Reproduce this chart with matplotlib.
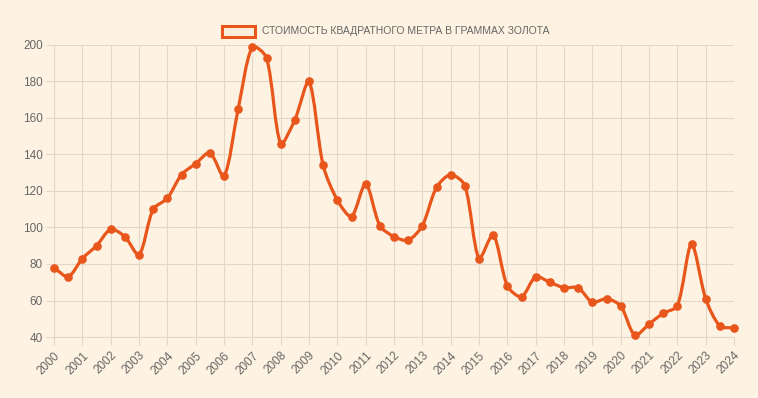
import numpy as np
import matplotlib
matplotlib.use("Agg")
import matplotlib.pyplot as plt
import matplotlib.transforms as mtransforms
from matplotlib.path import Path
from matplotlib.patches import PathPatch, Rectangle

years = np.arange(2000, 2024.01, 0.5)
values = [78, 73, 83, 90, 99, 95, 85, 110, 116, 129, 135, 141, 128, 165,
          199, 193, 146, 159, 180, 134, 115, 106, 124, 101, 95, 93, 101,
          122, 129, 123, 83, 96, 68, 62, 73, 70, 67, 67, 59, 61, 57, 41,
          47, 53, 57, 91, 61, 46, 45]
tick_years = list(range(2000, 2025))
y_ticks = [40, 60, 80, 100, 120, 140, 160, 180, 200]
legend_label = "СТОИМОСТЬ КВАДРАТНОГО МЕТРА В ГРАММАХ ЗОЛОТА"

BG = "#FEF3E2"
LINE = "#E8561C"
GRID = "#E3D8C8"
TXT = "#666666"

plt.rcParams['font.family'] = ['Liberation Sans', 'DejaVu Sans']

W, H = 758, 398
fig = plt.figure(figsize=(W / 100, H / 100), dpi=100, facecolor=BG)
ax = fig.add_axes([54 / W, (H - 337) / H, 680 / W, 292 / H], facecolor=BG)
ax.set_xlim(2000, 2024)
ax.set_ylim(40, 200)

# Chart.js-like spline computed in display space
fig.canvas.draw()
pts = ax.transData.transform(np.column_stack([years, values]))
t = 0.28
n = len(pts)
cp_prev = np.zeros_like(pts)
cp_next = np.zeros_like(pts)
for i in range(n):
    p = pts[i]
    a = pts[i - 1] if i > 0 else p
    b = pts[i + 1] if i < n - 1 else p
    d01 = np.hypot(*(p - a))
    d12 = np.hypot(*(b - p))
    tot = d01 + d12
    s01 = d01 / tot if tot else 0
    s12 = d12 / tot if tot else 0
    cp_prev[i] = p - t * s01 * (b - a)
    cp_next[i] = p + t * s12 * (b - a)
verts = [pts[0]]
codes = [Path.MOVETO]
for i in range(1, n):
    verts += [cp_next[i - 1], cp_prev[i], pts[i]]
    codes += [Path.CURVE4] * 3
inv = ax.transData.inverted()
verts_data = inv.transform(np.array(verts))
path = Path(verts_data, codes)
ax.add_patch(PathPatch(path, facecolor='none', edgecolor=LINE, lw=2.3,
                       capstyle='round', joinstyle='round', zorder=3, clip_on=False))
ax.plot(years, values, linestyle='none', marker='o', markersize=5.2,
        color=LINE, zorder=4, clip_on=False)

ax.set_xticks(tick_years)
ax.set_xticklabels([str(y) for y in tick_years], rotation=45, ha='right',
                   rotation_mode='anchor')
offset = mtransforms.ScaledTranslation(5 / 100, -2 / 100, fig.dpi_scale_trans)
for lbl in ax.get_xticklabels():
    lbl.set_transform(lbl.get_transform() + offset)
ax.set_yticks(y_ticks)
ax.set_yticklabels([str(v) for v in y_ticks])
ax.grid(True, color=GRID, lw=0.8)
ax.set_axisbelow(True)
for s in ['top', 'right']:
    ax.spines[s].set_visible(False)
for s in ['left', 'bottom']:
    ax.spines[s].set_color(GRID)
    ax.spines[s].set_linewidth(0.8)
ax.tick_params(axis='both', length=6, width=0.8, color=GRID, labelcolor=TXT,
               labelsize=8.5, pad=2)
ax.tick_params(axis='x', pad=3)

# legend
fig.patches.append(Rectangle((222 / W, (H - 37) / H), 33 / W, 11 / H,
                             transform=fig.transFigure, facecolor='#FDEDDA',
                             edgecolor=LINE, lw=2.2))
fig.text(262 / W, (H - 31) / H, legend_label, color=TXT, fontsize=7.5,
         va='center', ha='left')

fig.savefig("out.png", dpi=100, facecolor=BG)
